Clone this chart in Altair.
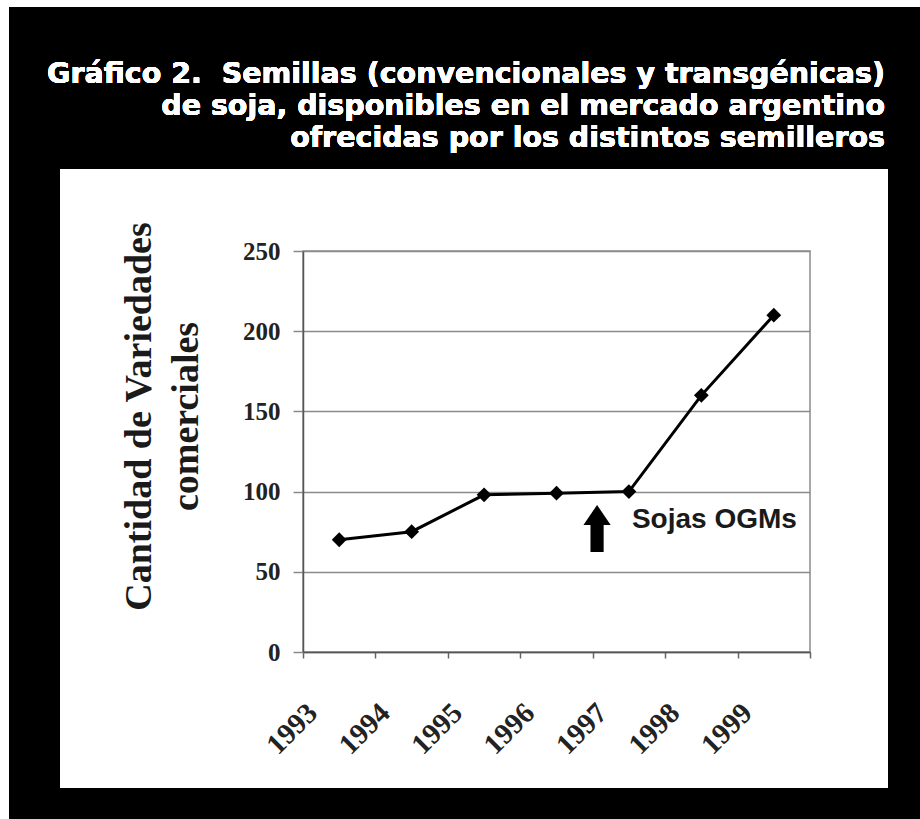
import altair as alt
import pandas as pd

# ---- data ----
years = ["1993", "1994", "1995", "1996", "1997", "1998", "1999"]
variedades = [70, 75, 98, 99, 100, 160, 210]
y_ticks = [0, 50, 100, 150, 200, 250]
title_lines = [
    "Gráfico 2.\u00a0 Semillas (convencionales y transgénicas)",
    "de soja, disponibles en el mercado argentino",
    "ofrecidas por los distintos semilleros",
]
y_title = ["Cantidad de Variedades", "comerciales"]
note_text = ["Sojas OGMs"]
note_year = ["1997"]
note_value = [77]

df = pd.DataFrame({"year": years, "value": variedades})
note_df = pd.DataFrame({"year": note_year, "value": note_value, "label": note_text})

W, H = 507, 401

x_scale = alt.Scale(type="band", domain=years, paddingInner=0, paddingOuter=0)
y_scale = alt.Scale(domain=[0, 250], nice=False)

x_axis = alt.Axis(
    title=None, labelAngle=315, labelAlign="right", labelBaseline="middle",
    labelOffset=-27, labelPadding=50, labelFont="Liberation Serif",
    labelFontSize=29, labelFontWeight="bold", labelColor="#222222",
    labelOverlap=False, labelFlush=False, labelBound=False,
    tickBand="extent", tickSize=6, tickColor="#666666", tickWidth=1.5,
    domainColor="#555555", domainWidth=1.5, grid=False,
)
y_axis = alt.Axis(
    values=y_ticks, format="d", title=y_title, titleAngle=270,
    titleX=-153, titleY=165, titleAlign="center", titleBaseline="alphabetic",
    titleFont="Liberation Serif", titleFontSize=38, titleFontWeight="bold",
    titleColor="#1a1a1a", titleLineHeight=47,
    labelFont="Liberation Serif", labelFontSize=25, labelFontWeight="bold",
    labelColor="#222222", labelPadding=13,
    tickSize=10, tickColor="#8a8a8a", tickWidth=1.5,
    grid=True, gridColor="#8a8a8a", gridWidth=1.5,
    domainColor="#555555", domainWidth=1.5,
)

X = alt.X("year:N", scale=x_scale, axis=x_axis, sort=years)
Y = alt.Y("value:Q", scale=y_scale, axis=y_axis)

line = alt.Chart(df).mark_line(color="black", strokeWidth=3).encode(x=X, y=Y)
points = alt.Chart(df).mark_point(
    shape="diamond", filled=True, size=220, color="black", opacity=1
).encode(x=X, y=Y)

arrow_shape = "M-0.28,1L0.28,1L0.28,-0.15L0.58,-0.15L0,-1L-0.58,-0.15L-0.28,-0.15Z"
arrow = alt.Chart(note_df).mark_point(
    shape=arrow_shape, filled=True, size=2209, color="black", opacity=1
).encode(
    x=alt.X("year:N", scale=x_scale, axis=x_axis, sort=years, bandPosition=0.06),
    y=Y,
)
note = alt.Chart(note_df).mark_text(
    align="left", baseline="alphabetic", dx=3, font="Liberation Sans",
    fontSize=28, fontWeight="bold", color="#1a1a1a"
).encode(x=X, y=Y, text="label:N")

# black frame around the white panel
def frame(x1, x2, y1, y2):
    return alt.Chart(df).mark_rect(color="black").encode(
        x=alt.value(x1), x2=alt.value(x2), y=alt.value(y1), y2=alt.value(y2)
    )

frames = [
    frame(-294, 617, -244, -82),
    frame(-294, 617, 537, 568),
    frame(-294, -243, -82, 537),
    frame(585, 617, -82, 537),
]

title = alt.Chart(df).mark_text(
    text=title_lines, align="right", baseline="alphabetic",
    font="DejaVu Sans", fontSize=28.5, fontWeight="bold",
    color="white", lineHeight=32,
).encode(x=alt.value(582), y=alt.value(-168))

chart = alt.layer(
    *frames, title, line, points, arrow, note
).properties(
    width=W, height=H,
    autosize=alt.AutoSizeParams(type="none"),
    padding={"left": 303, "top": 251, "right": 110, "bottom": 167},
    background="white",
).configure_view(stroke="#8c8c8c", strokeWidth=1.5)

chart.save("out.html", embed_options={"renderer": "svg", "actions": False})
